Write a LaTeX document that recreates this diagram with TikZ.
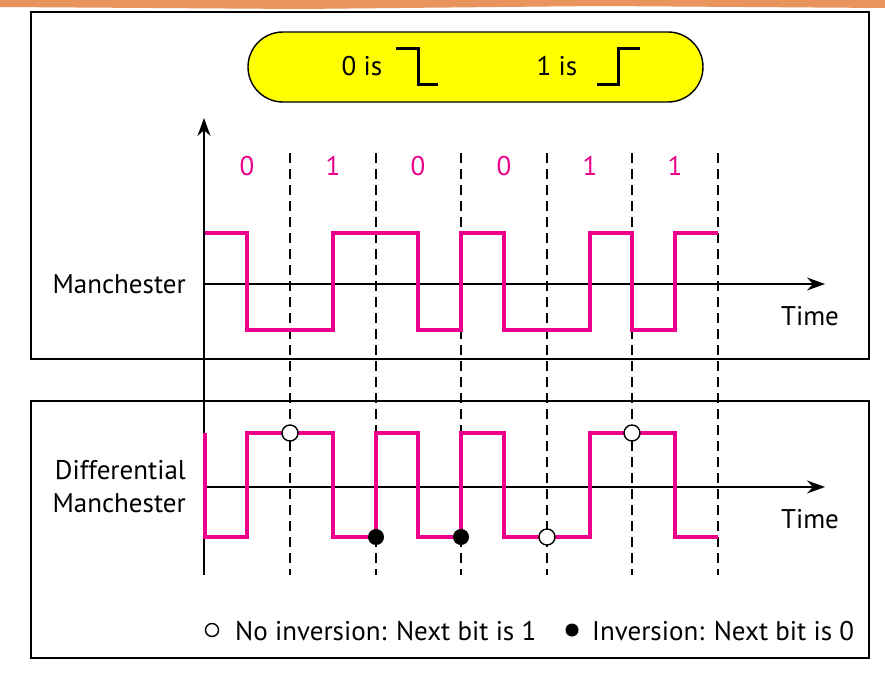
\documentclass[tikz,border=0pt]{standalone}
\usepackage{fontspec}
\setmainfont{PT Sans}
\usetikzlibrary{arrows.meta}

\definecolor{signalpink}{RGB}{236,0,140}
\definecolor{pillyellow}{RGB}{255,255,0}
\definecolor{bandorange}{RGB}{232,148,92}

\tikzset{
  txt/.style={font=\fontsize{27}{32}\selectfont, inner sep=0pt},
  bitlabel/.style={txt, text=signalpink, anchor=base},
  signal/.style={signalpink, line width=4.5pt},
  axisline/.style={line width=1.4pt},
  boundary/.style={line width=1.7pt, dash pattern=on 10pt off 6pt},
  hollowdot/.style={circle, draw, fill=white, line width=1.4pt, minimum size=16pt, inner sep=0pt},
  filleddot/.style={circle, fill=black, minimum size=16pt, inner sep=0pt}
}

\begin{document}
\begin{tikzpicture}[x=1pt,y=-1pt]
\useasboundingbox (0,0) rectangle (885,674);

%% slide band
\fill[bandorange] (0,0) -- (885,0) -- (885,8) -- (600,6) -- (300,9) -- (0,7) -- cycle;

%% panels
\draw[axisline] (31,12) rectangle (869,359);    %% manchester panel
\draw[axisline] (31,401) rectangle (869,658);   %% differential panel

%% key
\draw[line width=1.4pt, fill=pillyellow, rounded corners=35pt] (248,32) rectangle (703,102);
\node[txt, anchor=base] (keyzero) at (362,76) {0 is};
\node[txt, anchor=base] (keyone) at (557,76) {1 is};
\draw[line width=3pt] (396,49) -- (418,49) -- (418,85) -- (438,85);   %% high to low
\draw[line width=3pt] (597,85) -- (618,85) -- (618,49) -- (640,49);   %% low to high

%% axes
\coordinate (ybot) at (204,575);
\coordinate (ytop) at (204,118);
\coordinate (mstart) at (204,284);
\coordinate (mend) at (825,284);
\coordinate (dstart) at (204,487);
\coordinate (dend) at (825,487);
\draw[axisline, -{Stealth[length=18pt, width=13pt]}] (ybot) -- (ytop);
\draw[axisline, -{Stealth[length=18pt, width=13pt]}] (mstart) -- (mend);
\draw[axisline, -{Stealth[length=18pt, width=13pt]}] (dstart) -- (dend);

%% bit boundaries
\draw[boundary] (290,153) -- (290,575);
\draw[boundary] (376,153) -- (376,575);
\draw[boundary] (461,153) -- (461,575);
\draw[boundary] (547,153) -- (547,575);
\draw[boundary] (632,153) -- (632,575);
\draw[boundary] (718,153) -- (718,575);

%% bits
\node[bitlabel] (bita) at (247,175) {0};
\node[bitlabel] (bitb) at (333,175) {1};
\node[bitlabel] (bitc) at (418,175) {0};
\node[bitlabel] (bitd) at (504,175) {0};
\node[bitlabel] (bite) at (590,175) {1};
\node[bitlabel] (bitf) at (675,175) {1};

%% labels
\node[txt, anchor=base east] (mlabel) at (186,293) {Manchester};
\node[txt, anchor=base east] (dlabela) at (186,479) {Differential};
\node[txt, anchor=base east] (dlabelb) at (186,512) {Manchester};
\node[txt, anchor=base] (mtime) at (810,325) {Time};
\node[txt, anchor=base] (dtime) at (810,528) {Time};

%% manchester signal
\draw[signal] (205,233) -- (247,233) -- (247,330) -- (333,330) -- (333,233)
  -- (418,233) -- (418,330) -- (461,330) -- (461,233) -- (504,233)
  -- (504,330) -- (590,330) -- (590,233) -- (632,233) -- (632,330)
  -- (675,330) -- (675,233) -- (718,233);

%% differential manchester signal
\draw[signal] (205,433) -- (205,537) -- (247,537) -- (247,433) -- (333,433)
  -- (333,537) -- (376,537) -- (376,433) -- (418,433) -- (418,537)
  -- (461,537) -- (461,433) -- (504,433) -- (504,537) -- (590,537)
  -- (590,433) -- (675,433) -- (675,537) -- (718,537);

%% inversion marks
\node[hollowdot] (marka) at (290,433) {};
\node[filleddot] (markb) at (376,537) {};
\node[filleddot] (markc) at (461,537) {};
\node[hollowdot] (markd) at (547,537) {};
\node[hollowdot] (marke) at (632,433) {};

%% legend
\node[circle, draw, line width=1.4pt, minimum size=13pt, inner sep=0pt] (keyhollow) at (212,630) {};
\node[txt, anchor=base west] (keynoinv) at (235,640) {No inversion: Next bit is 1};
\node[circle, fill=black, minimum size=13pt, inner sep=0pt] (keyfilled) at (572,630) {};
\node[txt, anchor=base west] (keyinv) at (592,640) {Inversion: Next bit is 0};
\end{tikzpicture}
\end{document}
